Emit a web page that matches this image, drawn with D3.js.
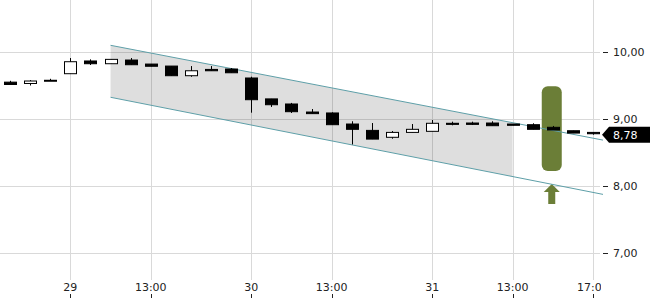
<!DOCTYPE html>
<html>
<head>
<meta charset="utf-8">
<script src="https://cdn.jsdelivr.net/npm/d3@7"></script>
<style>
  body { margin: 0; background: #fff; }
  svg { display: block; font-family: "DejaVu Sans", sans-serif; }
</style>
</head>
<body>
<div id="chart"></div>
<script>
const WIDTH = 650;
const HEIGHT = 300;
const PLOT_RIGHT = 603;

// hourly candles, 28th 15:00 to 31st 17:00
const OPEN  = [9.55, 9.53, 9.575, 9.676, 9.866, 9.825, 9.88, 9.82, 9.79, 9.646,
               9.74, 9.746, 9.612, 9.30, 9.224, 9.104, 9.09, 8.925, 8.83, 8.727,
               8.80, 8.816, 8.936, 8.94, 8.94, 8.925, 8.915, 8.876, 8.825, 8.80];
const HIGH  = [9.57, 9.58, 9.60, 9.91, 9.89, 9.89, 9.91, 9.82, 9.79, 9.79,
               9.79, 9.76, 9.631, 9.30, 9.24, 9.149, 9.10, 8.966, 8.94, 8.82,
               8.925, 8.985, 8.96, 8.96, 8.966, 8.925, 8.936, 8.896, 8.825, 8.80];
const LOW   = [9.515, 9.50, 9.575, 9.676, 9.806, 9.825, 9.81, 9.787, 9.646, 9.63,
               9.72, 9.69, 9.094, 9.18, 9.09, 9.08, 8.915, 8.62, 8.70, 8.706,
               8.80, 8.816, 8.906, 8.91, 8.90, 8.906, 8.846, 8.836, 8.79, 8.766];
const CLOSE = [9.515, 9.567, 9.578, 9.855, 9.825, 9.89, 9.81, 9.787, 9.646, 9.72,
               9.72, 9.69, 9.288, 9.213, 9.109, 9.08, 8.915, 8.846, 8.70, 8.80,
               8.846, 8.936, 8.92, 8.92, 8.90, 8.906, 8.846, 8.836, 8.79, 8.78];

const X_TICKS = [3, 7, 12, 16, 21, 25, 29];
const X_LABELS = ["29", "13:00", "30", "13:00", "31", "13:00", "17:00"];
const Y_TICKS = [7, 8, 9, 10];
const LAST_PRICE = 8.78;

// trend channel: [slot, value]
const CHANNEL_UPPER = [[5, 10.10], [29.5, 8.685]];
const CHANNEL_LOWER = [[5, 9.324], [29.5, 7.875]];
const SHADE_END = 25;

// signal marker
const SIGNAL_SLOT = 27;
const SIGNAL_RANGE = [8.224, 9.49];
const SIGNAL_ARROW = 8.03;

const fmt = v => d3.format(".2f")(v).replace(".", ",");

const svg = d3.select("#chart").append("svg")
  .attr("width", WIDTH)
  .attr("height", HEIGHT);

const x = d3.scaleLinear().domain([-0.5, 29.5]).range([0, PLOT_RIGHT]);
const y = d3.scaleLinear().domain([7, 10]).range([253, 52]);

// grid
svg.append("g").selectAll("line")
  .data(Y_TICKS).enter().append("line")
  .attr("x1", 0).attr("x2", 600)
  .attr("y1", d => Math.round(y(d)) + 0.5).attr("y2", d => Math.round(y(d)) + 0.5)
  .attr("stroke", "#d9d9d9");
svg.append("g").selectAll("line")
  .data(X_TICKS).enter().append("line")
  .attr("x1", d => Math.round(x(d)) + 0.5).attr("x2", d => Math.round(x(d)) + 0.5)
  .attr("y1", 0).attr("y2", 280)
  .attr("stroke", "#d9d9d9");

// channel
const lineAt = (pts, s) => {
  const t = (s - pts[0][0]) / (pts[1][0] - pts[0][0]);
  return pts[0][1] + t * (pts[1][1] - pts[0][1]);
};
const shade = [
  [CHANNEL_UPPER[0][0], CHANNEL_UPPER[0][1]],
  [SHADE_END, lineAt(CHANNEL_UPPER, SHADE_END)],
  [SHADE_END, lineAt(CHANNEL_LOWER, SHADE_END)],
  [CHANNEL_LOWER[0][0], CHANNEL_LOWER[0][1]]
];
svg.append("path")
  .attr("d", d3.line().x(d => x(d[0])).y(d => y(d[1]))(shade) + "Z")
  .attr("fill", "rgba(0,0,0,0.13)");

// signal marker
const sx = x(SIGNAL_SLOT) - 1;
svg.append("rect")
  .attr("x", sx - 10).attr("width", 20)
  .attr("y", y(SIGNAL_RANGE[1]))
  .attr("height", y(SIGNAL_RANGE[0]) - y(SIGNAL_RANGE[1]))
  .attr("rx", 6).attr("ry", 6)
  .attr("fill", "#6b7e37");
const at = y(SIGNAL_ARROW);
svg.append("path")
  .attr("d", `M${sx},${at} L${sx + 8},${at + 8} L${sx + 3.5},${at + 8} L${sx + 3.5},${at + 20}
              L${sx - 3.5},${at + 20} L${sx - 3.5},${at + 8} L${sx - 8},${at + 8} Z`)
  .attr("fill", "#6b7e37");

[CHANNEL_UPPER, CHANNEL_LOWER].forEach(pts => {
  svg.append("line")
    .attr("x1", x(pts[0][0])).attr("y1", y(pts[0][1]))
    .attr("x2", x(pts[1][0])).attr("y2", y(pts[1][1]))
    .attr("stroke", "#5e9fa8").attr("stroke-width", 1);
});

// candles
const candles = OPEN.map((o, i) => ({ i, o, h: HIGH[i], l: LOW[i], c: CLOSE[i] }));
const g = svg.append("g");
g.selectAll(".wick").data(candles).enter().append("line")
  .attr("x1", d => Math.round(x(d.i)) + 0.5).attr("x2", d => Math.round(x(d.i)) + 0.5)
  .attr("y1", d => y(d.h)).attr("y2", d => y(d.l))
  .attr("stroke", "#000");
g.selectAll(".body").data(candles).enter().append("rect")
  .attr("x", d => Math.round(x(d.i)) - 5.5)
  .attr("width", 12)
  .attr("y", d => y(Math.max(d.o, d.c)))
  .attr("height", d => Math.max(1, Math.abs(y(d.o) - y(d.c))))
  .attr("fill", d => d.c < d.o ? "#000" : "#fff")
  .attr("stroke", "#000").attr("stroke-width", 1);

// y axis
const yAxis = svg.append("g");
yAxis.selectAll("line").data(Y_TICKS).enter().append("line")
  .attr("x1", 603).attr("x2", 608)
  .attr("y1", d => Math.round(y(d)) + 0.5).attr("y2", d => Math.round(y(d)) + 0.5)
  .attr("stroke", "#222");
yAxis.selectAll("text").data(Y_TICKS).enter().append("text")
  .attr("x", 613).attr("y", d => y(d))
  .attr("dy", "0.36em")
  .attr("font-size", "11px")
  .attr("fill", "#222")
  .text(fmt);

// last price label
const ly = y(LAST_PRICE) + 1;
svg.append("path")
  .attr("d", `M602,${ly} L609,${ly - 8} L650,${ly - 8} L650,${ly + 8} L609,${ly + 8} Z`)
  .attr("fill", "#000");
svg.append("text")
  .attr("x", 613).attr("y", ly).attr("dy", "0.36em")
  .attr("font-size", "11px").attr("fill", "#fff")
  .text(fmt(LAST_PRICE));

// x axis
svg.append("clipPath").attr("id", "xclip")
  .append("rect").attr("x", 0).attr("y", 270).attr("width", 601).attr("height", 30);
const xAxis = svg.append("g").attr("clip-path", "url(#xclip)");
xAxis.selectAll("text").data(X_TICKS).enter().append("text")
  .attr("x", d => x(d)).attr("y", 291)
  .attr("text-anchor", "middle")
  .attr("font-size", "11px").attr("fill", "#222")
  .text((d, i) => X_LABELS[i]);
xAxis.selectAll("line").data(X_TICKS).enter().append("line")
  .attr("x1", d => Math.round(x(d)) + 0.5).attr("x2", d => Math.round(x(d)) + 0.5)
  .attr("y1", 294).attr("y2", 298)
  .attr("stroke", "#222");
</script>
</body>
</html>
